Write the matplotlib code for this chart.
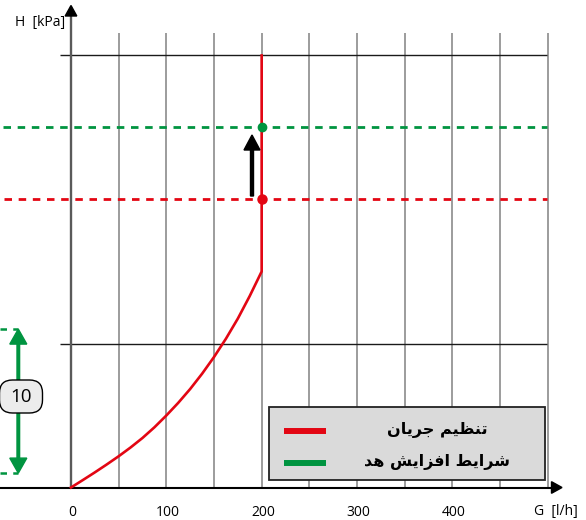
import matplotlib
matplotlib.use('Agg')
import matplotlib.pyplot as plt
from matplotlib.patches import FancyBboxPatch, Rectangle, Polygon

# ---------------- data ----------------
flow_G = [0, 12.5, 25, 37.5, 50, 62.5, 75, 87.5, 100, 112.5, 125, 137.5, 150, 162.5, 175, 187.5, 200]
flow_H = [0, 0.52, 1.05, 1.6, 2.17, 2.78, 3.44, 4.18, 5.0, 5.88, 6.84, 7.9, 9.06, 10.33, 11.73, 13.3, 15.0]
G_set = 200          # regulated flow [l/h]
H_top = 30           # end of vertical branch [kPa]
H_operating = 20     # operating point head
H_increased = 25     # increased head
delta_H = 10         # annotated head span
delta_H_base = 1.0
x_ticks = [0, 100, 200, 300, 400]
x_grid = [50, 100, 150, 200, 250, 300, 350, 400, 450, 500]
y_grid = [10, 30]
legend_labels = ['تنظیم جریان', 'شرایط افزایش هد']
x_label = 'G  [l/h]'
y_label = 'H  [kPa]'

RED = '#e30613'
GREEN = '#009440'


# ---- minimal Persian shaping (matplotlib has no complex text layout) ----
_FORMS = {
    'ا': ('\uFE8D', '\uFE8E', None, None),
    'ت': ('\uFE95', '\uFE96', '\uFE97', '\uFE98'),
    'ج': ('\uFE9D', '\uFE9E', '\uFE9F', '\uFEA0'),
    'د': ('\uFEA9', '\uFEAA', None, None),
    'ر': ('\uFEAD', '\uFEAE', None, None),
    'ز': ('\uFEAF', '\uFEB0', None, None),
    'ش': ('\uFEB5', '\uFEB6', '\uFEB7', '\uFEB8'),
    'ط': ('\uFEC1', '\uFEC2', '\uFEC3', '\uFEC4'),
    'ظ': ('\uFEC5', '\uFEC6', '\uFEC7', '\uFEC8'),
    'ف': ('\uFED1', '\uFED2', '\uFED3', '\uFED4'),
    'م': ('\uFEE1', '\uFEE2', '\uFEE3', '\uFEE4'),
    'ن': ('\uFEE5', '\uFEE6', '\uFEE7', '\uFEE8'),
    'ه': ('\uFEE9', '\uFEEA', '\uFEEB', '\uFEEC'),
    'ی': ('\uFEEF', '\uFEF0', '\uFEF3', '\uFEF4'),
}


def shape_fa(text):
    out = []
    n = len(text)
    for i, c in enumerate(text):
        if c not in _FORMS:
            out.append(c)
            continue
        f = _FORMS[c]
        prev = text[i - 1] if i > 0 else None
        nxt = text[i + 1] if i < n - 1 else None
        prev_joins = prev in _FORMS and _FORMS[prev][2] is not None
        next_joins = nxt in _FORMS and f[2] is not None
        if prev_joins and next_joins:
            out.append(f[3])
        elif prev_joins:
            out.append(f[1])
        elif next_joins:
            out.append(f[2])
        else:
            out.append(f[0])
    return ''.join(reversed(out))


# ---------------- figure ----------------
W, H = 586, 520
fig = plt.figure(figsize=(W / 100, H / 100), dpi=100)
ax = fig.add_axes([0, 0, 1, 1])
PX_X = 0.9533   # pixels per l/h
PX_Y = 14.4     # pixels per kPa
X0, Y0 = 71.0, 487.5
ax.set_xlim(-X0 / PX_X, (W - X0) / PX_X)
ax.set_ylim(-(H - Y0) / PX_Y, Y0 / PX_Y)
ax.axis('off')

ux = 1 / PX_X   # data units per pixel (x)
uy = 1 / PX_Y   # data units per pixel (y)

# vertical grid
ax.vlines(x_grid, 0, 31.55, colors='#9c9c9c', lw=1.4, zorder=1)
# horizontal grid
ax.hlines(y_grid, -11.5, 499, colors='#1a1a1a', lw=1.0, zorder=2)

# x axis with arrow
ax.plot([-X0 * ux, (552 - X0) * ux], [0, 0], color='black', lw=1.5, zorder=3,
        solid_capstyle='butt')
ax.add_patch(Polygon([[(551.5 - X0) * ux, 5.8 * uy], [(551.5 - X0) * ux, -5.8 * uy],
                      [(562 - X0) * ux, 0]], closed=True, color='black', zorder=3))
# y axis with arrow
ax.plot([0, 0], [0, (Y0 - 16) * uy], color='#5a5a5a', lw=1.7, zorder=3, solid_capstyle='butt')
ax.add_patch(Polygon([[-5.8 * ux, (Y0 - 16) * uy], [5.8 * ux, (Y0 - 16) * uy],
                      [0, (Y0 - 5.5) * uy]], closed=True, color='black', zorder=3))

# dashed head lines
dash = (2.7, 2.4)
ax.plot([(3 - X0) * ux, 499], [H_increased, H_increased], color=GREEN, lw=2.0,
        dashes=dash, zorder=3)
ax.plot([(4 - X0) * ux, 499], [H_operating, H_operating], color=RED, lw=2.0,
        dashes=dash, zorder=3)

# regulation curve
ax.plot(flow_G + [G_set], flow_H + [H_top], color=RED, lw=1.9, zorder=4,
        solid_joinstyle='round')

# points
ax.plot([G_set], [H_operating], 'o', color=RED, ms=6.5, zorder=5)
ax.plot([G_set], [H_increased], 'o', color=GREEN, ms=6.0, zorder=5)

# black arrow (head increase)
ax_x = (252 - X0) * ux
ax.arrow(ax_x, (Y0 - 196) * uy, 0, (196 - 135) * uy, width=3.0 * ux, head_width=16 * ux,
         head_length=15 * uy, length_includes_head=True, color='black', zorder=5)

# delta H annotation on the left
gx = (18.3 - X0) * ux
mid = delta_H_base + delta_H / 2
for end in (delta_H_base, delta_H_base + delta_H):
    ax.arrow(gx, mid, 0, end - mid, width=2.6 * ux, head_width=17 * ux, head_length=15 * uy,
             length_includes_head=True, color=GREEN, zorder=5)
    ax.plot([-X0 * ux, gx], [end, end], color=GREEN, lw=1.8, dashes=(2.6, 2.5), zorder=4)

box_w, box_h = 43 * ux, 33 * uy
bx0 = (-0.5 - X0) * ux
by0 = (Y0 - 413) * uy
ax.add_patch(FancyBboxPatch((bx0, by0), box_w, box_h,
                            boxstyle='round,pad=0,rounding_size=%f' % (13 * ux),
                            mutation_aspect=uy / ux, fc='#ececec', ec='black', lw=1.0, zorder=6))
ax.text(bx0 + box_w / 2, by0 + box_h / 2, str(delta_H), ha='center', va='center',
        fontsize=13.5, family='Open Sans', zorder=7)

# legend
lx0, lx1 = (269 - X0) * ux, (544.5 - X0) * ux
ly0, ly1 = (Y0 - 480) * uy, (Y0 - 406.5) * uy
ax.add_patch(Rectangle((lx0, ly0), lx1 - lx0, ly1 - ly0, fc='#dadada', ec='#222222',
                       lw=1.3, zorder=6))
legend_colors = [RED, GREEN]
legend_y = [(Y0 - 430.5) * uy, (Y0 - 462.5) * uy]
for lab, col, yy in zip(legend_labels, legend_colors, legend_y):
    ax.plot([(283.5 - X0) * ux, (326 - X0) * ux], [yy, yy], color=col, lw=4.3, zorder=7,
            solid_capstyle='butt')
    ax.text((437 - X0) * ux, yy, shape_fa(lab), ha='center', va='center', fontsize=11.5,
            fontweight='bold', family='DejaVu Sans', zorder=7)

# tick labels and axis labels
for t in x_ticks:
    ax.text(t + 1.5 * ux, (Y0 - 512) * uy, str(t), ha='center', va='center', fontsize=10,
            family='Open Sans')
ax.text((555.5 - X0) * ux, (Y0 - 512) * uy, x_label, ha='center', va='center', fontsize=10,
        family='Open Sans')
ax.text((65 - X0) * ux, (Y0 - 23) * uy, y_label, ha='right', va='center', fontsize=10,
        family='Open Sans')

fig.savefig('out.png', dpi=100)
